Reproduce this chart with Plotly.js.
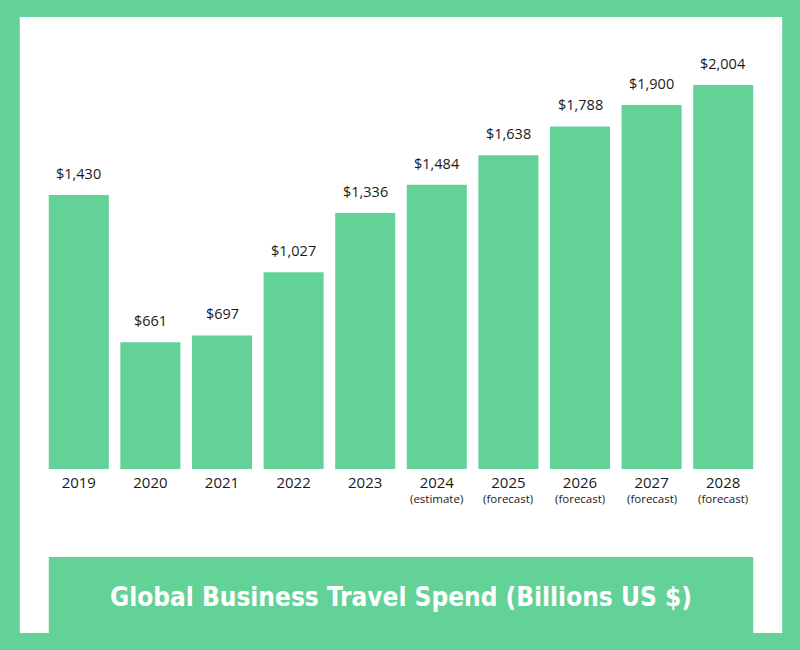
<!DOCTYPE html>
<html>
<head>
<meta charset="utf-8">
<script src="https://cdn.plot.ly/plotly-3.0.1.min.js"></script>
<style>html,body{margin:0;padding:0;background:#63D298;}#chart{width:800px;height:650px;}</style>
</head>
<body>
<div id="chart"></div>
<script>
const years = ["2019","2020","2021","2022","2023","2024","2025","2026","2027","2028"];
const notes = ["","","","","","(estimate)","(forecast)","(forecast)","(forecast)","(forecast)"];
const spend = [1430, 661, 697, 1027, 1336, 1484, 1638, 1788, 1900, 2004];
const valueLabels = ["$1,430","$661","$697","$1,027","$1,336","$1,484","$1,638","$1,788","$1,900","$2,004"];
const chartTitle = "Global Business Travel Spend (Billions US $)";

const GREEN = "#63D298";
const TEXT = "#1a1a1a";

const annotations = years.map((y, i) => ({
  x: i, y: spend[i], xref: "x", yref: "y",
  text: valueLabels[i], showarrow: false,
  yanchor: "bottom", yshift: 10,
  font: {family: "Open Sans", size: 14.5, color: TEXT}
}));
notes.forEach((n, i) => {
  if (n) annotations.push({
    x: i, y: -0.0676, xref: "x", yref: "paper",
    text: n, showarrow: false, yanchor: "middle",
    font: {family: "Open Sans", size: 11.5, color: TEXT}
  });
});
annotations.push({
  x: 0.5, y: -0.2984, xref: "paper", yref: "paper",
  text: "<b>" + chartTitle + "</b>", showarrow: false,
  xanchor: "center", yanchor: "middle",
  font: {family: "DejaVu Sans Condensed", size: 26, color: "#ffffff"}
});

const data = [{
  type: "bar",
  x: years,
  y: spend,
  marker: {color: GREEN, line: {width: 0}},
  hoverinfo: "x+y"
}];

const layout = {
  width: 800, height: 650,
  margin: {l: 43.2, r: 41.2, t: 40, b: 181, pad: 0},
  paper_bgcolor: GREEN,
  plot_bgcolor: "rgba(0,0,0,0)",
  showlegend: false,
  bargap: 0.1615,
  xaxis: {
    type: "category",
    tickmode: "array", tickvals: years, ticktext: years,
    showgrid: false, zeroline: false, showline: false, ticks: "",
    ticklabelstandoff: 3,
    tickfont: {family: "Open Sans", size: 15, color: TEXT},
    range: [-0.5, 9.5], fixedrange: true
  },
  yaxis: {
    range: [0, 2239], showgrid: false, zeroline: false, showline: false,
    showticklabels: false, ticks: "", fixedrange: true
  },
  shapes: [
    {type: "rect", xref: "paper", yref: "paper", x0: -0.03242, x1: 1.0324, y0: -0.3823, y1: 1.0536,
     fillcolor: "#ffffff", line: {width: 0}, layer: "below"},
    {type: "rect", xref: "paper", yref: "paper", x0: 0.0081, x1: 0.9919, y0: -0.3823, y1: -0.2051,
     fillcolor: GREEN, line: {width: 0}, layer: "below"}
  ],
  annotations: annotations
};

Plotly.newPlot("chart", data, layout, {displayModeBar: false, staticPlot: true});
</script>
</body>
</html>
